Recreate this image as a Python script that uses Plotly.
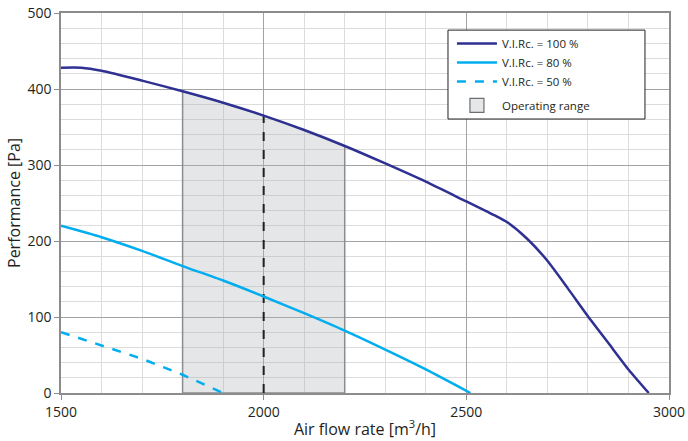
import plotly.graph_objects as go

# Data
x100 = [1500, 1550, 1600, 1700, 1800, 1900, 2000, 2100, 2200, 2300, 2400, 2500, 2550, 2580, 2600, 2650, 2700, 2750, 2800, 2850, 2900, 2950]
y100 = [428, 428, 424, 411, 397, 382, 365, 346, 325, 302, 278, 252, 239, 231, 225, 203, 174, 138, 101, 66, 31, 0]

x80 = [1500, 1600, 1700, 1800, 1900, 2000, 2100, 2200, 2300, 2400, 2510]
y80 = [220, 205, 187, 167, 148, 127, 105, 82, 57, 31, 0]

x50 = [1500, 1600, 1700, 1800, 1900]
y50 = [80, 63, 45, 24, 0]

range_lo, range_hi = 1800, 2200
design_x = 2000

names = ["V.I.Rc. = 100 %", "V.I.Rc. = 80 %", "V.I.Rc. = 50 %", "Operating range"]

NAVY = "#2e3192"
CYAN = "#00aeef"
FONT = "Open Sans"

# Operating range polygon under 100% curve
px = [range_lo] + [x for x in x100 if range_lo <= x <= range_hi] + [range_hi, range_lo]
py = [0] + [y for x, y in zip(x100, y100) if range_lo <= x <= range_hi] + [0, 0]

fig = go.Figure()
fig.add_trace(go.Scatter(x=px, y=py, fill="toself", mode="lines",
                         fillcolor="rgba(175,178,184,0.33)",
                         line=dict(color="#8c8c8c", width=1.5),
                         showlegend=False, hoverinfo="skip"))
dy = y100[x100.index(design_x)]
fig.add_trace(go.Scatter(x=[design_x, design_x], y=[0, dy], mode="lines",
                         line=dict(color="#231f20", width=2, dash="dash"),
                         showlegend=False, hoverinfo="skip"))
fig.add_trace(go.Scatter(x=x100, y=y100, mode="lines", line=dict(color=NAVY, width=2.5, shape="spline", smoothing=0.6),
                         name=names[0], legendgroup="a", legendrank=1))
fig.add_trace(go.Scatter(x=x80, y=y80, mode="lines", line=dict(color=CYAN, width=2.5, shape="spline", smoothing=0.6),
                         name=names[1], legendgroup="a", legendrank=2))
fig.add_trace(go.Scatter(x=x50, y=y50, mode="lines", line=dict(color=CYAN, width=2.5, dash="dash"),
                         name=names[2], legendgroup="a", legendrank=3))
# legend swatch for operating range
fig.add_trace(go.Scatter(x=[None], y=[None], mode="markers",
                         marker=dict(symbol="square", size=14, color="#e6e7e8",
                                     line=dict(color="#6d6e71", width=1.2)),
                         name=names[3], legendgroup="b", legendrank=4))

# legend frame
fig.add_shape(type="rect", xref="paper", yref="paper",
              x0=0.6365, x1=0.9605, y0=0.721, y1=0.955,
              line=dict(color="#231f20", width=1), fillcolor="white", layer="above")

fig.update_layout(
    width=688, height=441,
    margin=dict(l=61, r=19, t=13, b=48, autoexpand=False),
    paper_bgcolor="white", plot_bgcolor="white",
    font=dict(family=FONT, color="#231f20", size=14),
    showlegend=True,
    legend=dict(x=0.643, y=0.958, xanchor="left", yanchor="top",
                bgcolor="rgba(0,0,0,0)", borderwidth=0,
                font=dict(size=11.5, family=FONT), tracegroupgap=5,
                traceorder="grouped", itemwidth=40),
)
fig.update_xaxes(range=[1500, 3000], tickvals=[1500, 2000, 2500, 3000],
                 showgrid=True, gridcolor="#a3a3a3", gridwidth=1,
                 minor=dict(dtick=100, showgrid=True, gridcolor="#dcdcdc", gridwidth=1),
                 showline=True, linecolor="#8c8c8c", linewidth=1.5, mirror=True,
                 ticks="outside", ticklen=5, tickcolor="#8c8c8c",
                 zeroline=False, automargin=False,
                 title=dict(text="Air flow rate [m<sup>3</sup>/h]", font=dict(size=16), standoff=4))
fig.update_yaxes(range=[0, 500], tickvals=[0, 100, 200, 300, 400, 500],
                 showgrid=True, gridcolor="#a3a3a3", gridwidth=1,
                 minor=dict(dtick=20, showgrid=True, gridcolor="#dcdcdc", gridwidth=1),
                 showline=True, linecolor="#8c8c8c", linewidth=1.5, mirror=True,
                 ticks="outside", ticklen=5, tickcolor="#8c8c8c",
                 zeroline=False, automargin=False,
                 title=dict(text="Performance [Pa]", font=dict(size=16), standoff=3))

fig.write_html("out.html")
